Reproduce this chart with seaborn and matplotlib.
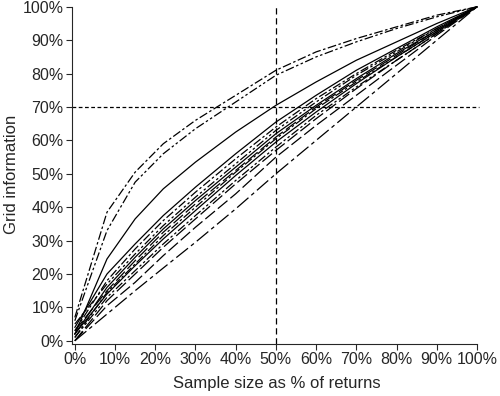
import numpy as np
import pandas as pd
import seaborn as sns
import matplotlib.pyplot as plt
from matplotlib.ticker import PercentFormatter

sns.set_style("ticks")
plt.rcParams['font.family'] = ['Liberation Sans', 'DejaVu Sans']

# sample size (% of returns) at which each curve was evaluated
sample_pct = [0, 8, 15, 22, 30, 40, 50, 60, 70, 80, 90, 100]

# grid information (%) per curve
curve_a = [7, 38.5, 50.5, 59, 66, 73.5, 81, 86.5, 90.5, 94, 97.5, 100]
curve_b = [6, 33, 47.5, 56, 63.5, 71.5, 79.5, 85, 89.5, 93.5, 97, 100]
curve_c = [2, 24.5, 36.5, 45.5, 53.5, 62.5, 70.5, 77.5, 84, 89.5, 95, 100]
curve_d = [4, 20, 29, 37.5, 46, 56, 65.5, 73.5, 81, 87.5, 94, 100]
curve_e = [3, 18, 27.5, 36, 44.5, 54.5, 64, 72.5, 80, 87, 93.5, 100]
curve_f = [5, 17, 26, 34.5, 43, 53, 63, 71.5, 79.5, 86.5, 93.5, 100]
curve_g = [2, 16, 25, 33.5, 42, 52, 62, 70.5, 78.5, 86, 93, 100]
curve_h = [3, 15, 24, 32.5, 41, 51, 61, 70, 78, 85.5, 93, 100]
curve_i = [1, 14.5, 23, 31.5, 40, 50.5, 60.5, 69.5, 77.5, 85, 92.5, 100]
curve_j = [2, 14, 22.5, 30.5, 39, 49.5, 59.5, 68.5, 77, 85, 92.5, 100]
curve_k = [1, 13, 21, 29, 37.5, 48, 58, 67.5, 76, 84, 92, 100]
curve_l = [0, 12, 20, 28, 36.5, 47, 57, 66.5, 75.5, 84, 92, 100]
curve_m = [0, 10.5, 17.5, 25.5, 34, 44, 55, 64.5, 73.5, 82.5, 91.5, 100]
curve_n = [0, 8, 15, 21.8, 29.5, 39.5, 50, 60, 70, 80, 90, 100]

curves = {'a': curve_a, 'b': curve_b, 'c': curve_c, 'd': curve_d, 'e': curve_e,
          'f': curve_f, 'g': curve_g, 'h': curve_h, 'i': curve_i, 'j': curve_j,
          'k': curve_k, 'l': curve_l, 'm': curve_m, 'n': curve_n}

dash_dot = (7, 2, 2, 2)
dash_dot_dot = (7, 2, 2, 2, 2, 2)
long_dash = (10, 3)
dashes = {'a': dash_dot, 'b': dash_dot_dot, 'c': '', 'd': '', 'e': dash_dot,
          'f': dash_dot_dot, 'g': '', 'h': long_dash, 'i': dash_dot, 'j': '',
          'k': dash_dot_dot, 'l': long_dash, 'm': long_dash, 'n': (12, 3, 3, 3)}

df = pd.concat([pd.DataFrame({'x': sample_pct, 'y': v, 'curve': k})
                for k, v in curves.items()], ignore_index=True)

fig = plt.figure(figsize=(5, 3.96), dpi=100)
ax = fig.add_axes([0.144, 0.131, 0.818, 0.856])

sns.lineplot(data=df, x='x', y='y', hue='curve', style='curve',
             palette=['black'] * len(curves), dashes=dashes, lw=0.9,
             legend=False, ax=ax, clip_on=False)

ax.axhline(70, color='black', lw=0.9, ls=(0, (3, 2)), xmax=0.995)
ax.axvline(50, color='black', lw=0.9, ls=(0, (5, 3)))

ax.set_xlim(-0.7, 101)
ax.set_ylim(-1, 100.5)
ax.set_xticks(np.arange(0, 101, 10))
ax.set_yticks(np.arange(0, 101, 10))
ax.xaxis.set_major_formatter(PercentFormatter(decimals=0))
ax.yaxis.set_major_formatter(PercentFormatter(decimals=0))
ax.tick_params(labelsize=11.5, length=4, width=0.8, pad=2)
ax.spines['top'].set_visible(False)
ax.spines['right'].set_visible(False)
ax.spines['left'].set_bounds(-1, 100)
ax.spines['bottom'].set_bounds(-0.7, 100)
ax.set_xlabel('Sample size as % of returns', fontsize=12, labelpad=6)
ax.set_ylabel('Grid information', fontsize=12, labelpad=3)

fig.savefig('out.png', dpi=100)
